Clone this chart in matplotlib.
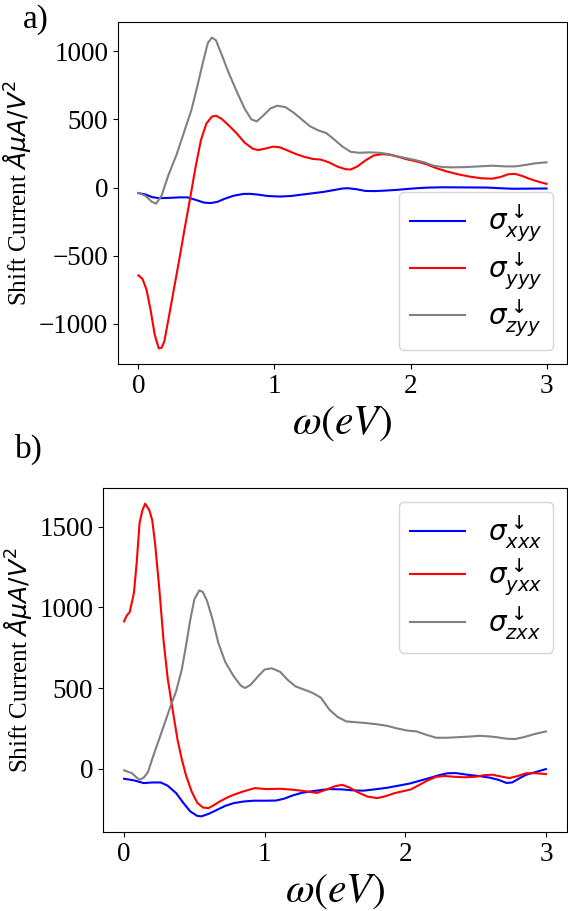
import matplotlib
matplotlib.use("Agg")
import matplotlib.pyplot as plt

# panel a) -- sigma_{.yy}
omega_xyy = [0.0, 0.05, 0.10, 0.15, 0.22, 0.30, 0.36, 0.42, 0.48, 0.53, 0.58, 0.64, 0.70,
             0.77, 0.82, 0.88, 0.95, 1.04, 1.12, 1.20, 1.28, 1.36, 1.44, 1.50, 1.54, 1.60,
             1.67, 1.74, 1.82, 1.90, 1.98, 2.06, 2.14, 2.25, 2.40, 2.56, 2.66, 2.75, 2.85, 3.0]
sigma_xyy = [-41, -50, -70, -78, -76, -72, -72, -90, -110, -114, -105, -80, -60,
             -47, -46, -52, -62, -66, -62, -52, -42, -32, -18, -7, -5, -12,
             -25, -26, -22, -17, -10, -4, 0, 2, 1, 0, -5, -9, -8, -7]

omega_yyy = [0.0, 0.03, 0.06, 0.09, 0.12, 0.15, 0.17, 0.19, 0.22, 0.26, 0.30, 0.34, 0.38,
             0.42, 0.46, 0.50, 0.54, 0.57, 0.61, 0.66, 0.72, 0.78, 0.84, 0.88, 0.93, 0.99,
             1.04, 1.10, 1.16, 1.22, 1.28, 1.34, 1.40, 1.46, 1.52, 1.56, 1.61, 1.67, 1.73,
             1.79, 1.85, 1.91, 1.97, 2.05, 2.12, 2.19, 2.27, 2.35, 2.43, 2.52, 2.60, 2.66,
             2.72, 2.77, 2.82, 2.88, 2.94, 3.0]
sigma_yyy = [-644, -670, -750, -900, -1080, -1180, -1175, -1130, -970, -750, -530, -300, -80,
             150, 350, 470, 520, 527, 505, 460, 400, 330, 285, 275, 285, 300,
             295, 270, 245, 225, 210, 205, 185, 155, 135, 132, 155, 200, 235,
             245, 240, 225, 208, 190, 170, 142, 117, 97, 81, 68, 65, 77,
             98, 100, 85, 62, 43, 27]

omega_zyy = [0.0, 0.05, 0.10, 0.13, 0.17, 0.22, 0.28, 0.34, 0.39, 0.43, 0.47, 0.51, 0.54,
             0.57, 0.61, 0.66, 0.72, 0.78, 0.83, 0.87, 0.92, 0.97, 1.02, 1.08, 1.14, 1.20,
             1.26, 1.32, 1.38, 1.43, 1.50, 1.56, 1.62, 1.70, 1.77, 1.84, 1.90, 1.97, 2.04,
             2.10, 2.17, 2.24, 2.32, 2.40, 2.50, 2.60, 2.70, 2.77, 2.84, 2.92, 3.0]
sigma_zyy = [-39, -60, -105, -118, -60, 90, 240, 420, 570, 730, 900, 1060, 1100,
             1080, 980, 850, 710, 580, 500, 485, 530, 580, 600, 590, 550, 500,
             450, 420, 400, 360, 300, 262, 255, 258, 255, 245, 230, 215, 200,
             185, 160, 150, 148, 150, 155, 160, 155, 155, 165, 178, 185]

# panel b) -- sigma_{.xx}
omega_xxx = [0.0, 0.07, 0.14, 0.20, 0.26, 0.31, 0.37, 0.42, 0.47, 0.52, 0.55, 0.60, 0.66,
             0.72, 0.78, 0.85, 0.92, 1.00, 1.08, 1.14, 1.20, 1.26, 1.33, 1.40, 1.46, 1.55,
             1.63, 1.70, 1.78, 1.87, 1.95, 2.03, 2.10, 2.17, 2.24, 2.30, 2.36, 2.44, 2.52,
             2.60, 2.66, 2.72, 2.76, 2.81, 2.86, 2.93, 3.0]
sigma_xxx = [-62, -72, -89, -85, -85, -105, -151, -210, -264, -292, -295, -280, -255,
             -230, -213, -203, -198, -198, -197, -185, -165, -150, -140, -132, -126, -128,
             -134, -136, -128, -118, -105, -92, -75, -58, -40, -28, -27, -37, -45,
             -55, -68, -88, -85, -60, -37, -20, -2]

omega_yxx = [0.0, 0.02, 0.04, 0.07, 0.09, 0.11, 0.13, 0.15, 0.18, 0.20, 0.22, 0.25, 0.28,
             0.31, 0.35, 0.38, 0.41, 0.44, 0.48, 0.52, 0.56, 0.60, 0.64, 0.68, 0.73, 0.78,
             0.85, 0.93, 1.01, 1.11, 1.20, 1.28, 1.37, 1.43, 1.50, 1.55, 1.60, 1.66, 1.73,
             1.80, 1.86, 1.92, 1.98, 2.04, 2.10, 2.16, 2.22, 2.28, 2.35, 2.42, 2.50, 2.56,
             2.62, 2.68, 2.74, 2.80, 2.86, 2.93, 3.0]
sigma_yxx = [913, 950, 970, 1089, 1280, 1522, 1600, 1642, 1600, 1540, 1398, 1120, 800,
             560, 340, 180, 60, -40, -140, -210, -240, -244, -225, -203, -180, -161,
             -140, -120, -126, -124, -130, -138, -150, -132, -108, -100, -115, -145, -172,
             -182, -170, -152, -140, -128, -100, -72, -50, -45, -50, -53, -50, -40,
             -37, -48, -58, -45, -28, -28, -33]

omega_zxx = [0.0, 0.055, 0.09, 0.11, 0.14, 0.17, 0.20, 0.24, 0.28, 0.33, 0.37, 0.41, 0.44,
             0.47, 0.50, 0.535, 0.56, 0.59, 0.63, 0.67, 0.72, 0.78, 0.83, 0.86, 0.90, 0.95,
             1.00, 1.05, 1.11, 1.17, 1.22, 1.28, 1.34, 1.40, 1.46, 1.52, 1.58, 1.65, 1.72,
             1.80, 1.87, 1.94, 2.01, 2.08, 2.15, 2.22, 2.30, 2.39, 2.47, 2.53, 2.60, 2.66,
             2.72, 2.78, 2.84, 2.92, 3.0]
sigma_zxx = [-10, -27, -55, -68, -55, -20, 60, 160, 260, 386, 480, 613, 760,
             920, 1050, 1105, 1095, 1040, 923, 780, 660, 572, 515, 500, 520, 570,
             615, 622, 600, 545, 510, 490, 470, 440, 366, 320, 293, 288, 283,
             275, 266, 250, 237, 231, 210, 192, 192, 196, 200, 204, 200, 194,
             186, 184, 195, 215, 231]

plt.rcParams['font.family'] = ['Liberation Serif', 'DejaVu Sans']

fig = plt.figure(figsize=(5.68, 9.11), dpi=100)

ax1 = fig.add_axes([118 / 568, 1 - 364 / 911, 449 / 568, 342 / 911])
ax2 = fig.add_axes([103 / 568, 1 - 832 / 911, 464 / 568, 344 / 911])

ax1.plot(omega_xyy, sigma_xyy, color="blue", lw=1.5, label=r"$\sigma^{\downarrow}_{xyy}$")
ax1.plot(omega_yyy, sigma_yyy, color="red", lw=1.5, label=r"$\sigma^{\downarrow}_{yyy}$")
ax1.plot(omega_zyy, sigma_zyy, color="grey", lw=1.5, label=r"$\sigma^{\downarrow}_{zyy}$")
ax1.set_yticks([-1000, -500, 0, 500, 1000])
ax1.legend(loc="lower right", fontsize=20, labelspacing=0.2)

ax2.plot(omega_xxx, sigma_xxx, color="blue", lw=1.5, label=r"$\sigma^{\downarrow}_{xxx}$")
ax2.plot(omega_yxx, sigma_yxx, color="red", lw=1.5, label=r"$\sigma^{\downarrow}_{yxx}$")
ax2.plot(omega_zxx, sigma_zxx, color="grey", lw=1.5, label=r"$\sigma^{\downarrow}_{zxx}$")
ax2.set_yticks([0, 500, 1000, 1500])
ax2.legend(loc="upper right", fontsize=20, labelspacing=0.2)

for ax in (ax1, ax2):
    ax.set_xticks([0, 1, 2, 3])
    ax.tick_params(labelsize=19.5)
    ax.set_xlabel(r"$\omega(eV)$", fontsize=30, math_fontfamily="stix")
    ax.set_ylabel(r"Shift Current $\AA\mu A/V^2$", fontsize=18)

fig.text(23 / 568, 1 - 28 / 911, "a)", fontsize=24, va="baseline")
fig.text(15 / 568, 1 - 458 / 911, "b)", fontsize=24, va="baseline")

fig.savefig("out.png", dpi=100)
plt.close(fig)
